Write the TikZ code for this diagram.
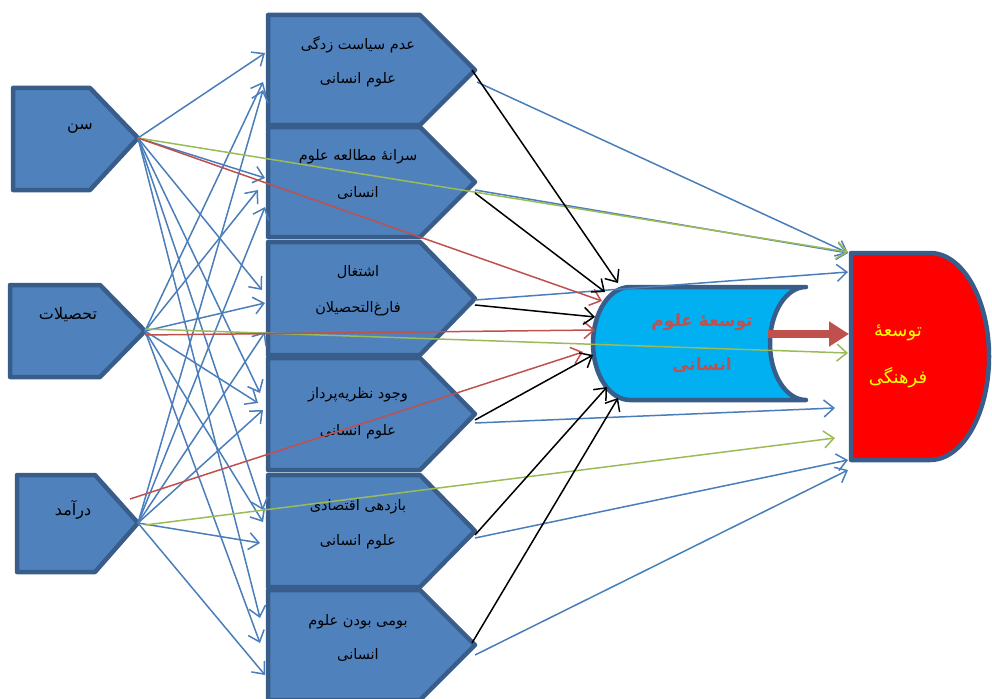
\documentclass[tikz,border=0pt]{standalone}
\usepackage{fontspec}
\newfontfamily\fa[Script=Arabic]{DejaVu Sans}
\TeXXeTstate=1
\usetikzlibrary{arrows.meta}
\definecolor{boxfill}{HTML}{4F81BD}
\definecolor{boxline}{HTML}{385D8A}
\definecolor{arblue}{HTML}{4A7EBB}
\definecolor{argreen}{HTML}{9BBB59}
\definecolor{arred}{HTML}{C0504D}
\definecolor{cylfill}{HTML}{00B0F0}
\definecolor{dtext}{HTML}{FFFF00}
\newcommand\MidBox[2]{\path[shp] (268,#1) -- (420,#1) -- (475,{(#1+#2)/2}) -- (420,#2) -- (268,#2) -- cycle;}
\begin{document}
\begin{tikzpicture}[x=1pt,y=-1pt,
  shp/.style={fill=boxfill,draw=boxline,line width=4.5pt,line join=round},
  con/.style={line width=1.5pt,-{Straight Barb[length=10pt,width=17pt,line width=1.5pt]}},
  txt/.style={font=\fa\fontsize{14.5}{17}\selectfont,inner sep=0pt,text=black},
  ltxt/.style={font=\fa\fontsize{16}{19}\selectfont,inner sep=0pt,text=black},
  ctxt/.style={font=\fa\bfseries\fontsize{17}{20}\selectfont,inner sep=0pt,text=arred},
  dtxt/.style={font=\fa\fontsize{18}{21}\selectfont,inner sep=0pt,text=dtext}]
\useasboundingbox (0,0) rectangle (992,698);

% left boxes
\path[shp] (13,88) -- (90,88) -- (138,138) -- (90,190) -- (13,190) -- cycle;
\path[shp] (10,285) -- (100,285) -- (145,331) -- (100,377) -- (10,377) -- cycle;
\path[shp] (17,475) -- (95,475) -- (138,523) -- (95,572) -- (17,572) -- cycle;

% middle boxes
\MidBox{15}{125}
\MidBox{127}{237}
\MidBox{242}{355}
\MidBox{358}{470}
\MidBox{475}{587}
\MidBox{590}{700}

% cylinder
\draw[fill=cylfill,draw=boxline,line width=4.5pt,line join=round,line cap=round]
  (630,287) -- (806,287) arc[start angle=270,end angle=90,x radius=36,y radius=56.5]
  -- (630,400) arc[start angle=90,end angle=270,x radius=37,y radius=56.5] -- cycle;

% D shape
\draw[fill=red,draw=boxline,line width=4.5pt,line join=round]
  (851,253) -- (930,253) arc[start angle=270,end angle=450,x radius=59,y radius=103.5]
  -- (851,460) -- cycle;

% texts
\node[ltxt] (lS) at (80,129) {\beginR سن\endR};
\node[ltxt] (lT) at (68,315) {\beginR تحصیلات\endR};
\node[ltxt] (lI) at (73,510) {\beginR درآمد\endR};

\node[txt] (m1a) at (358,45) {\beginR عدم سیاست زدگی\endR};
\node[txt] (m1b) at (358,80) {\beginR علوم انسانی\endR};
\node[txt] (m2a) at (358,157) {\beginR سرانهٔ مطالعه علوم\endR};
\node[txt] (m2b) at (358,193) {\beginR انسانی\endR};
\node[txt] (m3a) at (358,272) {\beginR اشتغال\endR};
\node[txt] (m3b) at (358,309) {\beginR فارغ‌التحصیلان\endR};
\node[txt] (m4a) at (358,395) {\beginR وجود نظریه‌پرداز\endR};
\node[txt] (m4b) at (358,432) {\beginR علوم انسانی\endR};
\node[txt] (m5a) at (358,507) {\beginR بازدهی اقتصادی\endR};
\node[txt] (m5b) at (358,542) {\beginR علوم انسانی\endR};
\node[txt] (m6a) at (358,622) {\beginR بومی بودن علوم\endR};
\node[txt] (m6b) at (358,655) {\beginR انسانی\endR};

\node[ctxt] (ca) at (702,322) {\beginR توسعهٔ علوم\endR};
\node[ctxt] (cb) at (702,365) {\beginR انسانی\endR};

\node[dtxt] (da) at (898,333) {\beginR توسعهٔ\endR};
\node[dtxt] (db) at (898,378) {\beginR فرهنگی\endR};

% connection points
\coordinate (S) at (138,138);
\coordinate (T) at (145,331);
\coordinate (I) at (138,523);
\foreach \n/\x/\y in {eS1/265/53,eS2/265/178,eS3/262/290,eS4/260/393,eS5/263/510,eS6/260/618,
  eT1/263/82,eT2/258/190,eT3/265/303,eT4/258/403,eT5/263/522,eT6/260/643,
  eI1/263/90,eI2/265/207,eI3/265/332,eI4/263/410,eI5/260/543,eI6/265/675,
  k1s/472/70,k2s/475/193,k3s/475/305,k4s/475/420,k5s/475/535,k6s/472/643,
  k1e/618/283,k2e/605/292,k3e/595/317,k4e/593/355,k5e/607/387,k6e/618/398,
  b1s/477/82,b2s/475/190,b3s/475/300,b4s/475/423,b5s/475/538,b6s/475/655,
  b1e/848/253,b2e/848/253,b3e/848/272,b4e/835/408,b5e/848/460,b6e/848/470,
  rS/138/138,rT/145/335,rI/130/499,rSe/602/301,rTe/595/330,rIe/583/352,
  gS/138/138,gT/145/329,gI/145/525,gSe/848/252,gTe/848/353,gIe/835/438,
  ra/768/334,rb/849/334}
  {\coordinate (\n) at (\x,\y);}

% blue arrows left -> middle
\foreach \s in {S,T,I}{
  \foreach \i in {1,...,6}{
    \draw[con,arblue] (\s) -- (e\s\i);
  }
}
% blue arrows middle -> D
\foreach \i in {1,...,6}{\draw[con,arblue] (b\i s) -- (b\i e);}
% green arrows
\draw[con,argreen] (gS) -- (gSe);
\draw[con,argreen] (gT) -- (gTe);
\draw[con,argreen] (gI) -- (gIe);
% red arrows
\draw[con,arred] (rS) -- (rSe);
\draw[con,arred] (rT) -- (rTe);
\draw[con,arred] (rI) -- (rIe);
% black arrows middle -> cylinder
\foreach \i in {1,...,6}{\draw[con,black] (k\i s) -- (k\i e);}

% thick arrow cylinder -> D
\draw[arred,line width=8pt,-{Triangle[length=20pt,width=24pt]}] (ra) -- (rb);
\end{tikzpicture}
\end{document}
